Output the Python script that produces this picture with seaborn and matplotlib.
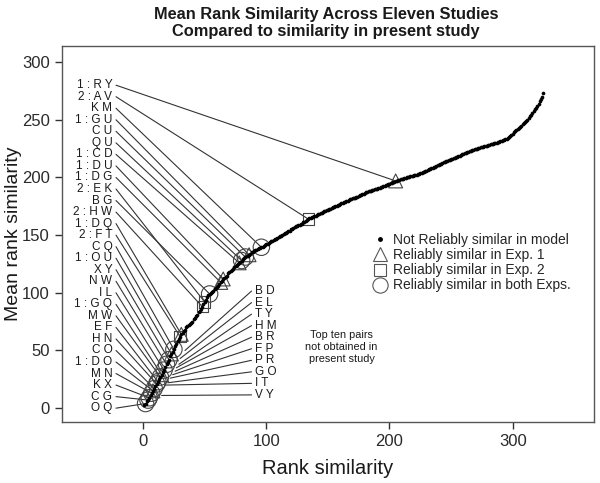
import numpy as np
import pandas as pd
import matplotlib
matplotlib.use("Agg")
import matplotlib.pyplot as plt
from matplotlib.lines import Line2D
import seaborn as sns

# ---------------- data ----------------
mean_rank = [
    3, 4, 6, 7, 9, 11, 13, 15, 17, 19,
    21, 23, 25, 27, 29, 31, 33, 36, 38, 40,
    42, 45, 47, 49, 51, 54, 56, 58, 60, 62,
    64, 65, 67, 68, 70, 71, 72, 73, 74, 75,
    77, 78, 80, 81, 83, 84, 86, 88, 90, 92,
    94, 96, 98, 99, 100, 101, 102, 103, 104, 105,
    106, 108, 109, 110, 112, 113, 114, 115, 117, 118,
    119, 120, 121, 122, 123, 124, 125, 126, 127, 128,
    129, 130, 131, 131.5, 132, 133, 134, 135, 135.5, 136,
    137, 137.5, 138, 138.5, 139, 139.5, 140, 141, 141.5, 142,
    142.5, 143, 144, 144.5, 145, 146, 146.5, 147, 147.5, 148,
    149, 149.5, 150, 151, 151.5, 152, 153, 153.5, 154, 155,
    155.5, 156, 157, 157.5, 158, 158.5, 159, 159.5, 160, 161,
    161.5, 162, 163, 164, 164.5, 165, 165.5, 166, 166.5, 167,
    167.5, 168, 168.5, 169, 169.5, 170, 170.5, 171, 171.5, 172,
    172.5, 173, 173.5, 174, 174.5, 175, 175.5, 176, 176.5, 177,
    177.5, 178, 178.5, 179, 179.5, 180, 180.5, 181, 181.5, 181.8,
    182, 182.5, 183, 183.5, 184, 184.5, 185, 185.5, 186, 186.5,
    187, 187.5, 188, 188.3, 188.7, 189, 189.4, 189.8, 190, 190.4,
    190.8, 191.2, 191.6, 192, 192.4, 192.8, 193.2, 193.6, 194, 194.5,
    195, 195.5, 196, 196.5, 197, 197.3, 197.6, 198, 198.3, 198.6,
    199, 199.3, 199.6, 200, 200.3, 200.6, 201, 201.2, 201.5, 201.8,
    202, 202.3, 202.6, 203, 203.5, 204, 204.5, 205, 205.5, 206,
    206.5, 207, 207.5, 208, 208.5, 209, 209.5, 210, 210.5, 211,
    211.5, 212, 212.5, 213, 213.5, 214, 214.5, 215, 215.3, 215.6,
    216, 216.5, 217, 217.5, 218, 218.5, 219, 219.5, 220, 220.5,
    221, 221.5, 222, 222.5, 223, 223.3, 223.6, 224, 224.4, 224.8,
    225, 225.3, 225.6, 226, 226.3, 226.6, 227, 227.3, 227.6, 228,
    228.3, 228.6, 229, 229.3, 229.6, 230, 230.3, 230.6, 231, 231.4,
    231.8, 232.2, 232.6, 233, 233.5, 234, 235, 236, 237, 238,
    239, 240, 241, 242, 243, 244, 245, 246, 247, 248,
    249, 250, 251.5, 253, 254.5, 256, 257.5, 259, 260.5, 262,
    264, 266, 268, 270, 273,
]
rank = list(range(1, len(mean_rank) + 1))

left_pairs = ["R Y", "A V", "K M", "G U", "C U", "Q U", "C D", "D U", "D G",
              "E K", "B G", "H W", "D Q", "F T", "C Q", "O U", "X Y", "N W",
              "I L", "G Q", "M W", "E F", "H N", "C O", "D O", "M N", "K X",
              "C G", "O Q"]
left_status = ["exp1", "exp2", "both", "exp1", "both", "both", "exp1", "exp1",
               "exp1", "exp2", "both", "exp2", "exp1", "exp2", "both", "exp1",
               "both", "both", "both", "exp1", "both", "both", "both", "both",
               "exp1", "both", "both", "both", "both"]
left_rank = [205, 134, 96, 86, 83, 80, 78, 65, 63, 50, 54, 48, 31, 30, 25,
             23, 21, 19, 17, 15, 14, 12, 11, 9, 8, 7, 5, 4, 2]

right_pairs = ["B D", "E L", "T Y", "H M", "B R", "F P", "P R", "G O", "I T", "V Y"]
right_end_x = [34, 30, 29, 27, 26, 24, 22, 20, 18, 15]
right_end_y = [50, 43, 38, 35, 32, 29, 26, 22, 20, 11]

legend_labels = ["Not Reliably similar in model", "Reliably similar in Exp. 1",
                 "Reliably similar in Exp. 2", "Reliably similar in both Exps."]

# ---------------- styling ----------------
sns.set_style("ticks")
plt.rcParams["font.family"] = ["Liberation Sans", "DejaVu Sans"]
TXT = "#1a1a1a"
LINE = "#333333"

fig = plt.figure(figsize=(6.0, 4.83), dpi=100)
ax = fig.add_axes([0.103, 0.1263, 0.887, 0.7785])

curve = pd.DataFrame({"rank": rank, "mean_rank": mean_rank})
sns.scatterplot(data=curve, x="rank", y="mean_rank", ax=ax, color="black",
                s=7, linewidth=0, zorder=4, legend=False)

marked = pd.DataFrame({
    "rank": left_rank,
    "mean_rank": [mean_rank[r - 1] for r in left_rank],
    "status": left_status,
})
marker_map = {"exp1": "^", "exp2": "s", "both": "o"}
size_map = {"exp1": 100, "exp2": 65, "both": 140}
for st in ["both", "exp1", "exp2"]:
    sub = marked[marked["status"] == st]
    sns.scatterplot(data=sub, x="rank", y="mean_rank", ax=ax, marker=marker_map[st],
                    s=size_map[st], facecolor="none", edgecolor="#444444",
                    linewidth=0.8, zorder=3, legend=False)

# left labels and leader lines
prefix = {"exp1": "1 : ", "exp2": "2 : ", "both": ""}
for i, (pair, st, r) in enumerate(zip(left_pairs, left_status, left_rank)):
    ly = 280 - 10 * i
    ax.text(-25, ly, prefix[st] + pair, ha="right", va="center", fontsize=8.5,
            color=TXT)
    ax.plot([-22, r], [ly, mean_rank[r - 1]], color=LINE, lw=0.8, zorder=2)

# right labels and leader lines
for i, (pair, ex, ey) in enumerate(zip(right_pairs, right_end_x, right_end_y)):
    ly = 101.5 - 10 * i
    ax.text(91, ly, pair, ha="left", va="center", fontsize=8.5, color=TXT)
    ax.plot([88, ex], [ly, ey], color=LINE, lw=0.8, zorder=2)

ax.text(161, 53, "Top ten pairs\nnot obtained in\npresent study", ha="center",
        va="center", fontsize=7.8, color=TXT, linespacing=1.2)

handles = [
    Line2D([], [], ls="none", marker="o", markersize=2.5, color="black"),
    Line2D([], [], ls="none", marker="^", markersize=10, markerfacecolor="none",
           markeredgecolor="#555555", markeredgewidth=0.8),
    Line2D([], [], ls="none", marker="s", markersize=8, markerfacecolor="none",
           markeredgecolor="#555555", markeredgewidth=0.8),
    Line2D([], [], ls="none", marker="o", markersize=11, markerfacecolor="none",
           markeredgecolor="#555555", markeredgewidth=0.8),
]
ax.legend(handles, legend_labels, frameon=False, loc="upper left",
          bbox_to_anchor=(0.574, 0.517), fontsize=10, handlelength=1.0,
          handletextpad=0.45, labelspacing=0.08, borderaxespad=0)

ax.set_xlim(-66, 366)
ax.set_ylim(-12, 314)
ax.set_xticks([0, 100, 200, 300])
ax.set_yticks([0, 50, 100, 150, 200, 250, 300])
ax.tick_params(axis="both", labelsize=12, colors="#333333", labelcolor="#2a2a2a",
               length=5, width=1)
for sp in ax.spines.values():
    sp.set_visible(True)
    sp.set_color("#555555")
    sp.set_linewidth(1)

ax.set_xlabel("Rank similarity", fontsize=14.5, color=TXT, labelpad=7)
ax.set_ylabel("Mean rank similarity", fontsize=14, color=TXT)
ax.yaxis.set_label_coords(-0.075, 0.5)
fig.suptitle("Mean Rank Similarity Across Eleven Studies\nCompared to similarity in present study",
             x=0.543, y=0.986, fontsize=11.8, fontweight="bold", color=TXT,
             linespacing=1.15)

fig.savefig("out.png", dpi=100)
